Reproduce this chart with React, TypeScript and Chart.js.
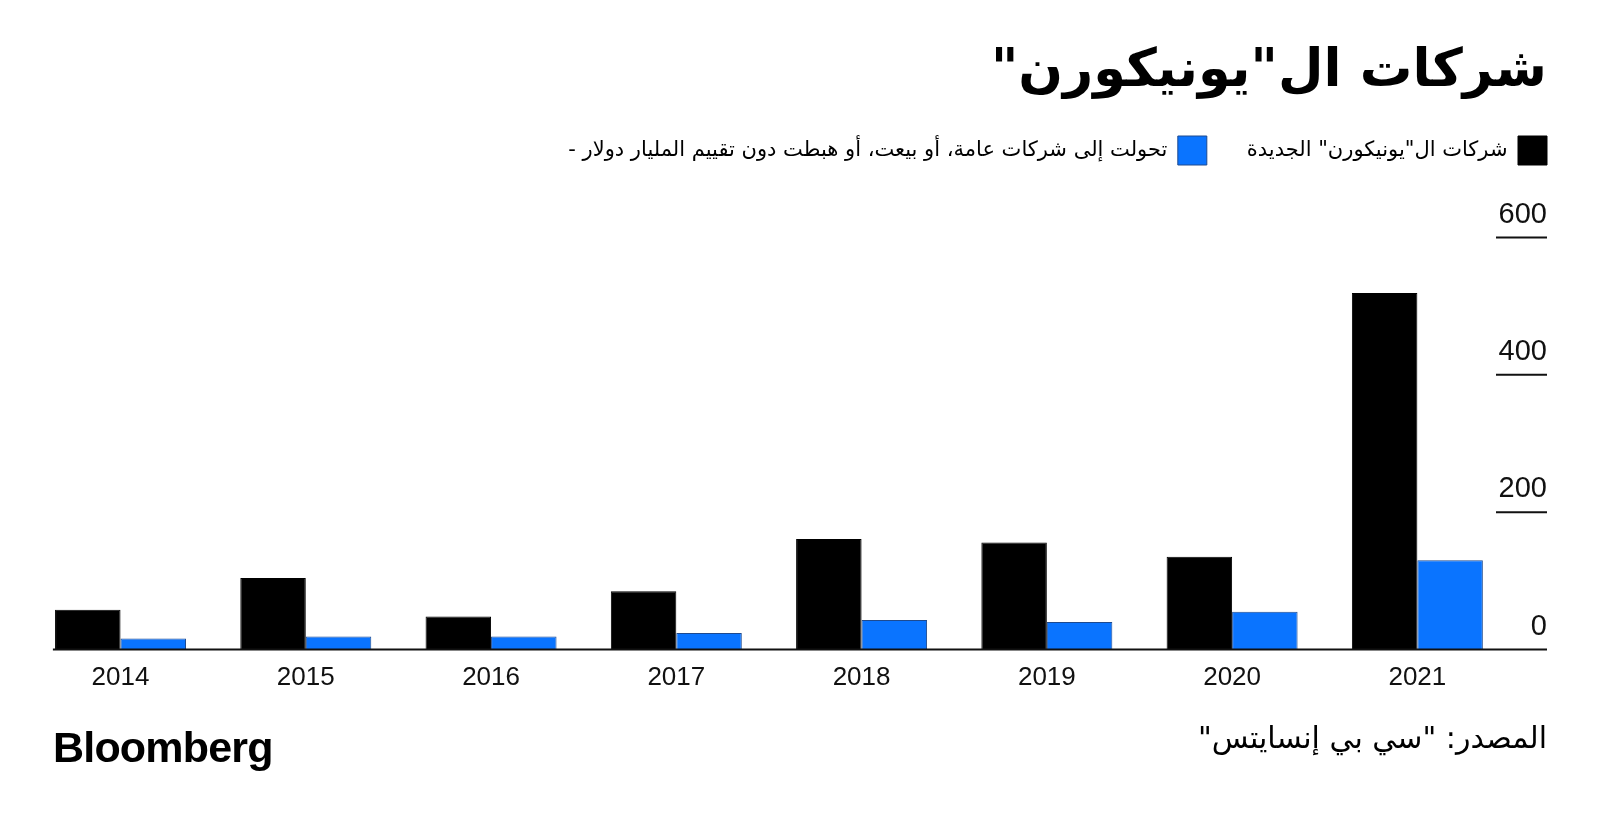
import React, { useEffect, useRef } from "react";
import { Chart, registerables } from "chart.js";

Chart.register(...registerables);

// ---- data ----
const years = ["2014", "2015", "2016", "2017", "2018", "2019", "2020", "2021"];
const newUnicorns = [58, 104, 48, 85, 161, 156, 135, 519];
const exitedUnicorns = [16, 19, 19, 24, 43, 40, 55, 130];
const yTickValues = [0, 200, 400, 600];
const seriesLabels = [
  'شركات ال"يونيكورن" الجديدة',
  "تحولت إلى شركات عامة، أو بيعت، أو هبطت دون تقييم المليار دولار -",
];
const titleText = 'شركات ال"يونيكورن"';
const sourceText = 'المصدر: "سي بي إنسايتس"';
const logoText = "Bloomberg";

const ARABIC_FONT = '"DejaVu Sans", "Noto Sans", sans-serif';
const LATIN_FONT = '"Liberation Sans", Arial, Helvetica, sans-serif';

const LEGEND_HEIGHT = 141.5;

const decorPlugin = {
  id: "decor",
  beforeLayout(chart: any) {
    const lg = chart.legend;
    if (lg && !lg.__patched) {
      const orig = lg.fit.bind(lg);
      lg.fit = function () {
        orig();
        this.height = LEGEND_HEIGHT;
      };
      lg.__patched = true;
    }
  },
  afterDatasetsDraw(chart: any) {
    const ctx = chart.ctx;
    const ys = chart.scales.y;
    const area = chart.chartArea;
    const x1 = area.right - 14;
    const x2 = ys.left + 37;
    ctx.save();
    ctx.strokeStyle = "#111";
    ctx.lineWidth = 2;
    ys.ticks.forEach((t: any) => {
      if (t.value === 0) return;
      const py = ys.getPixelForValue(t.value);
      ctx.beginPath();
      ctx.moveTo(x1, py);
      ctx.lineTo(x2, py);
      ctx.stroke();
    });
    const p0 = ys.getPixelForValue(0);
    ctx.beginPath();
    ctx.moveTo(area.left + 25, p0);
    ctx.lineTo(x2, p0);
    ctx.stroke();
    ctx.restore();
  },
};

export default function App() {
  const canvasRef = useRef<HTMLCanvasElement | null>(null);

  useEffect(() => {
    if (!canvasRef.current) return;
    const chart = new Chart(canvasRef.current, {
      type: "bar",
      data: {
        labels: years,
        datasets: [
          {
            label: seriesLabels[0],
            data: newUnicorns,
            backgroundColor: "#000000",
            borderColor: "#000000",
            borderWidth: 1,
          },
          {
            label: seriesLabels[1],
            data: exitedUnicorns,
            backgroundColor: "#0a74ff",
            borderColor: "#1e4a8f",
            borderWidth: 1,
          },
        ],
      },
      options: {
        animation: false,
        responsive: false,
        maintainAspectRatio: false,
        devicePixelRatio: 1,
        layout: {
          padding: { left: 27.9, right: 13, top: 96, bottom: 116.5 },
        },
        datasets: {
          bar: {
            barPercentage: 1,
            categoryPercentage: 0.707,
            borderSkipped: "bottom",
          },
        },
        plugins: {
          title: { display: false },
          tooltip: { enabled: false },
          legend: {
            display: true,
            position: "top",
            align: "start",
            rtl: true,
            textDirection: "rtl",
            labels: {
              boxWidth: 29,
              boxHeight: 29,
              padding: 40,
              color: "#000",
              font: { family: ARABIC_FONT, size: 21 },
            },
          },
        },
        scales: {
          x: {
            type: "category",
            offset: true,
            grid: { display: false, drawTicks: false, tickLength: 0 },
            border: { display: false },
            ticks: {
              color: "#111",
              padding: 13,
              font: { family: LATIN_FONT, size: 26 },
              maxRotation: 0,
              autoSkip: false,
            },
            afterFit(scale: any) {
              scale.height = 60;
            },
          },
          y: {
            type: "linear",
            position: "right",
            min: 0,
            max: 600,
            afterBuildTicks(scale: any) {
              scale.ticks = yTickValues.map((v) => ({ value: v }));
            },
            grid: { display: false, drawTicks: false, tickLength: 0 },
            border: { display: false },
            ticks: {
              mirror: true,
              crossAlign: "near",
              padding: 37,
              labelOffset: -23,
              color: "#111",
              font: { family: LATIN_FONT, size: 29 },
              callback: (v: any) => String(v),
            },
            afterFit(scale: any) {
              scale.width = 77;
            },
          },
        },
      } as any,
      plugins: [decorPlugin],
    });
    return () => chart.destroy();
  }, []);

  return (
    <div
      style={{
        position: "absolute",
        left: 0,
        top: 0,
        width: 1600,
        height: 826,
        background: "#fff",
        overflow: "hidden",
      }}
    >
      <canvas
        ref={canvasRef}
        width={1600}
        height={826}
        style={{ position: "absolute", left: 0, top: 0, width: 1600, height: 826 }}
      />
      <div
        dir="rtl"
        style={{
          position: "absolute",
          right: 53,
          top: 36,
          fontFamily: ARABIC_FONT,
          fontWeight: 700,
          fontSize: 52.5,
          lineHeight: 1.2,
          color: "#000",
          whiteSpace: "nowrap",
        }}
      >
        {titleText}
      </div>
      <div
        dir="rtl"
        style={{
          position: "absolute",
          right: 53,
          top: 720,
          fontFamily: ARABIC_FONT,
          fontSize: 30,
          lineHeight: 1.2,
          color: "#000",
          whiteSpace: "nowrap",
        }}
      >
        {sourceText}
      </div>
      <div
        style={{
          position: "absolute",
          left: 53,
          top: 726,
          fontFamily: LATIN_FONT,
          fontWeight: 700,
          fontSize: 43,
          lineHeight: 1,
          letterSpacing: -0.8,
          color: "#000",
          whiteSpace: "nowrap",
        }}
      >
        {logoText}
      </div>
    </div>
  );
}
